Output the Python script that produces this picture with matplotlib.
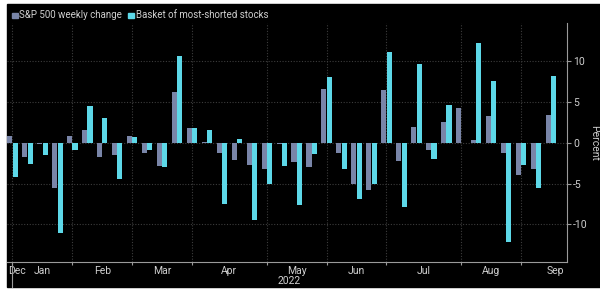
import numpy as np
import matplotlib
matplotlib.use("Agg")
import matplotlib.pyplot as plt
import matplotlib.transforms as mtransforms
from matplotlib.patches import Rectangle

plt.rcParams["font.family"] = ["Roboto", "DejaVu Sans"]

# weekly changes, in percent (week ending Dec 31 2021 .. Sep 2022)
sp500 = [0.8, -1.75, -0.2, -5.6, 0.8, 1.6, -1.8, -1.55, 0.8, -1.2, -2.85, 6.2,
         1.8, 0.1, -1.2, -2.15, -2.7, -3.25, -0.15, -2.35, -3.0, 6.6, -1.2, -5.0,
         -5.75, 6.4, -2.2, 1.9, -0.95, 2.5, 4.2, 0.35, 3.25, -1.2, -4.0, -3.25, 3.45]
shorted = [-4.2, -2.6, -1.5, -11.1, -0.85, 4.5, 3.05, -4.4, 0.7, -0.85, -3.0, 10.6,
           1.8, 1.6, -7.55, 0.5, -9.5, -5.1, -2.9, -7.65, -1.35, 8.1, -3.2, -6.9,
           -5.0, 11.15, -7.85, 9.6, -2.05, 4.6, -0.05, 12.15, 7.5, -12.2, -2.7, -5.5, 8.2]

# last week of each month -> tick, month name sits between ticks
month_ticks = [0, 4, 8, 12, 17, 21, 25, 30, 34]
month_names = ["Dec", "Jan", "Feb", "Mar", "Apr", "May", "Jun", "Jul", "Aug", "Sep"]
month_label_pos = [0.3, 2, 6, 10, 14.5, 19, 23, 27.5, 32, 36.3]
y_ticks = [-10, -5, 0, 5, 10]

gray = "#7985a8"
cyan = "#5dd8e8"
txt = "#cfcfcf"
grid = "#3c3c3c"

W, H = 600, 289
fig = plt.figure(figsize=(W / 100, H / 100), dpi=100)
fig.patch.set_facecolor("white")
# black panel, small white border on top/left/bottom
bg = Rectangle((7 / W, 2 / H), 1 - 7 / W, 1 - 6 / H,
               transform=fig.transFigure, color="black", zorder=-10)
fig.add_artist(bg)

ax = fig.add_axes([6.5 / W, 27 / H, (567 - 6.5) / W, (262 - 23) / H])
ax.set_facecolor("black")

x = np.arange(len(sp500))
w = 0.34
ax.bar(x - 0.18, sp500, w, color=gray, zorder=3)
ax.bar(x + 0.18, shorted, w, color=cyan, zorder=3)

ax.set_xlim(-0.4, 37.07)
ax.set_ylim(-14.6, 14.65)

# grid
for v in y_ticks:
    ax.axhline(v, color=grid, lw=0.8, ls=(0, (1, 1.5)), zorder=1)
for t in month_ticks:
    ax.axvline(t, color=grid, lw=0.8, ls=(0, (1, 1.5)), zorder=1)

# spines
for s in ["left", "top"]:
    ax.spines[s].set_visible(False)
ax.spines["right"].set_color("#9a9a9a")
ax.spines["bottom"].set_color("#9a9a9a")
ax.spines["right"].set_linewidth(0.8)
ax.spines["bottom"].set_linewidth(0.8)

# y axis on the right
ax.yaxis.tick_right()
ax.set_yticks(y_ticks)
ax.set_yticklabels([str(v) for v in y_ticks])
ax.tick_params(axis="y", colors="#9a9a9a", labelcolor=txt, labelsize=7.5, length=3, pad=1.5)
ax.yaxis.set_label_position("right")
ax.set_ylabel("Percent", color=txt, fontsize=7.5, rotation=270, labelpad=8)

# x axis: small ticks at month ends, labels in between
ax.set_xticks(month_ticks)
ax.set_xticklabels([""] * len(month_ticks))
ax.tick_params(axis="x", which="major", colors="#9a9a9a", length=2, width=0.8)
ax.set_xticks(month_label_pos, minor=True)
ax.set_xticklabels(month_names, minor=True)
ax.tick_params(axis="x", which="minor", length=0, labelcolor=txt, labelsize=7.5, pad=3)

# year marker
trans = mtransforms.blended_transform_factory(ax.transData, ax.transAxes)
ax.plot([0, 0], [0, -0.105], color="#9a9a9a", lw=0.8, transform=trans, clip_on=False)
ax.text(18.5, -0.06, "2022", transform=trans, ha="center", va="top", color=txt, fontsize=7.5)

# legend
fig.add_artist(Rectangle((12 / W, 1 - 18 / H), 5.5 / W, 5.5 / H,
                         transform=fig.transFigure, color=gray))
fig.text(19 / W, 1 - 15 / H, "S&P 500 weekly change", color=txt, fontsize=7, va="center")
fig.add_artist(Rectangle((128 / W, 1 - 18 / H), 5.5 / W, 5.5 / H,
                         transform=fig.transFigure, color=cyan))
fig.text(136 / W, 1 - 15 / H, "Basket of most-shorted stocks", color=txt, fontsize=7, va="center")

fig.savefig("out.png", dpi=100, facecolor=fig.get_facecolor())
